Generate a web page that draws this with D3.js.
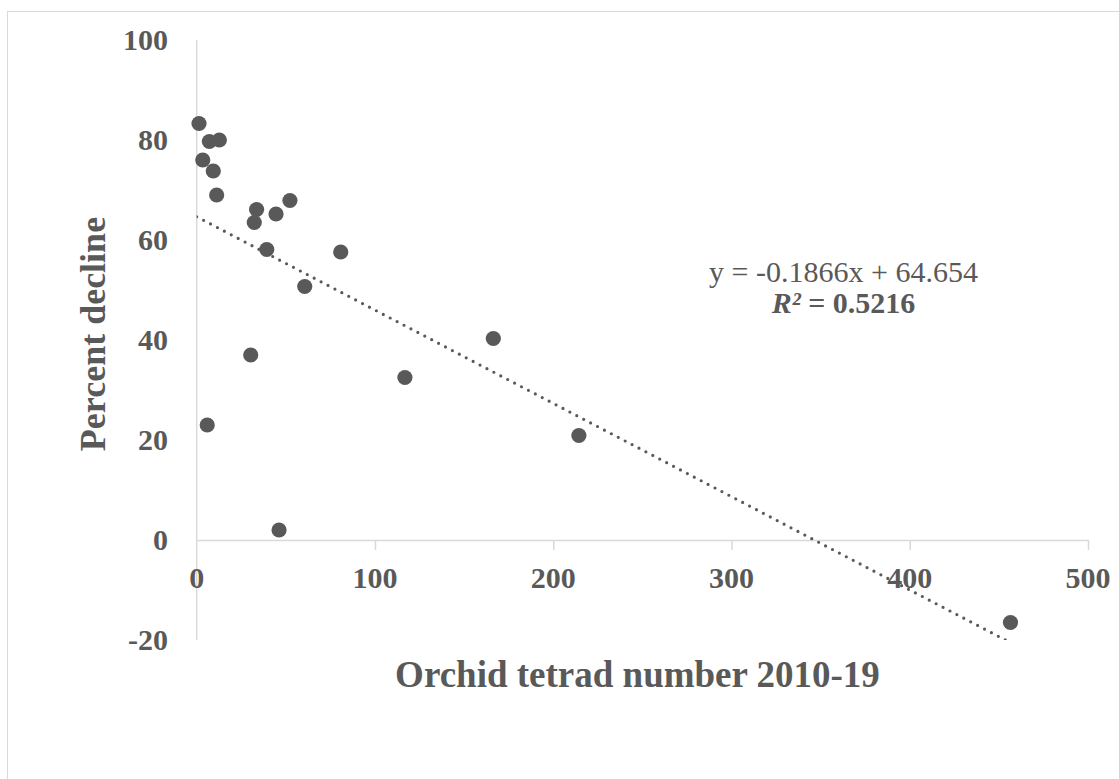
<!DOCTYPE html>
<html>
<head>
<meta charset="utf-8">
<script src="https://cdn.jsdelivr.net/npm/d3@7"></script>
<style>
  body { margin: 0; background: #fff; }
  text { font-family: "Liberation Serif", "Times New Roman", serif; fill: #595959; }
</style>
</head>
<body>
<script>
const WIDTH = 1119;
const HEIGHT = 779;

// Orchid tetrad number 2010-19 vs percent decline
const tetrads = [1.3, 7.1, 12.7, 3.4, 9.3, 11.2, 33.6, 32.3, 44.5, 52.3,
  39.3, 80.8, 60.6, 30.3, 5.9, 46.2, 116.8, 166.4, 214.4, 456.5];
const decline = [83.3, 79.7, 80, 76, 73.8, 69, 66.1, 63.5, 65.2, 67.9,
  58.1, 57.6, 50.7, 37, 23, 2, 32.5, 40.3, 20.9, -16.5];

const xTicks = [0, 100, 200, 300, 400, 500];
const yTicks = [-20, 0, 20, 40, 60, 80, 100];

const slope = -0.1866;
const intercept = 64.654;

const GRAY = '#595959';
const AXIS = '#d9d9d9';

const svg = d3.select('body').append('svg')
  .attr('width', WIDTH)
  .attr('height', HEIGHT);

// chart area border
svg.append('rect')
  .attr('x', 7.5).attr('y', 11.5)
  .attr('width', WIDTH + 20).attr('height', HEIGHT + 20)
  .attr('fill', 'none')
  .attr('stroke', AXIS);

const x = d3.scaleLinear().domain([0, 500]).range([196.7, 1088]);
const y = d3.scaleLinear().domain([-20, 100]).range([640, 40]);

svg.append('clipPath').attr('id', 'plot')
  .append('rect')
  .attr('x', x(0)).attr('y', y(100))
  .attr('width', x(500) - x(0)).attr('height', y(-20) - y(100));

// x axis at y = 0
const xAxis = svg.append('g')
  .attr('transform', `translate(0,${y(0)})`)
  .call(d3.axisBottom(x).tickValues(xTicks.slice(1)).tickSize(10).tickSizeOuter(0).tickFormat(''));
xAxis.select('.domain').attr('stroke', AXIS).attr('stroke-width', 1.5);
xAxis.selectAll('.tick line').attr('stroke', AXIS).attr('stroke-width', 1.5);

// y axis line
svg.append('line')
  .attr('x1', x(0)).attr('x2', x(0))
  .attr('y1', y(100)).attr('y2', y(-20))
  .attr('stroke', AXIS).attr('stroke-width', 1.5);

// tick labels
svg.selectAll('text.xlab')
  .data(xTicks).enter()
  .append('text')
  .attr('class', 'xlab')
  .attr('x', d => x(d))
  .attr('y', 588)
  .attr('text-anchor', 'middle')
  .attr('font-weight', 'bold')
  .attr('font-size', 30)
  .text(d => d);

svg.selectAll('text.ylab')
  .data(yTicks).enter()
  .append('text')
  .attr('class', 'ylab')
  .attr('x', 168)
  .attr('y', d => y(d) + 10)
  .attr('text-anchor', 'end')
  .attr('font-weight', 'bold')
  .attr('font-size', 30)
  .text(d => d);

// trend line
svg.append('line')
  .attr('clip-path', 'url(#plot)')
  .attr('x1', x(0)).attr('y1', y(intercept))
  .attr('x2', x(d3.max(tetrads))).attr('y2', y(intercept + slope * d3.max(tetrads)))
  .attr('stroke', GRAY)
  .attr('stroke-width', 3.2)
  .attr('stroke-linecap', 'round')
  .attr('stroke-dasharray', '0 7.8');

// points
svg.selectAll('circle')
  .data(tetrads).enter()
  .append('circle')
  .attr('cx', d => x(d))
  .attr('cy', (d, i) => y(decline[i]))
  .attr('r', 7.6)
  .attr('fill', GRAY);

// equation
svg.append('text')
  .attr('x', 843.5).attr('y', 282)
  .attr('text-anchor', 'middle')
  .attr('font-size', 30)
  .text(`y = ${slope}x + ${intercept}`);

const r2 = svg.append('text')
  .attr('x', 843.5).attr('y', 313)
  .attr('text-anchor', 'middle')
  .attr('font-size', 30)
  .attr('font-weight', 'bold');
r2.append('tspan').attr('font-style', 'italic').text('R²');
r2.append('tspan').text(' = 0.5216');

// axis titles
svg.append('text')
  .attr('x', 637.5).attr('y', 687)
  .attr('text-anchor', 'middle')
  .attr('font-size', 37)
  .attr('font-weight', 'bold')
  .text('Orchid tetrad number 2010-19');

svg.append('text')
  .attr('transform', 'translate(105,334) rotate(-90)')
  .attr('text-anchor', 'middle')
  .attr('font-size', 36)
  .attr('font-weight', 'bold')
  .text('Percent decline');
</script>
</body>
</html>
